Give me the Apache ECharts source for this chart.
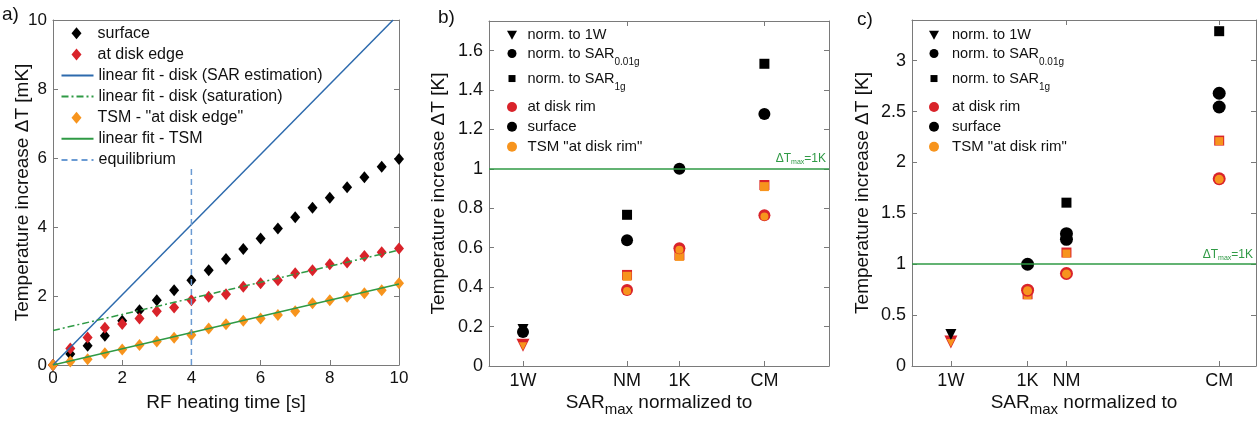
<!DOCTYPE html>
<html>
<head>
<meta charset="utf-8">
<title>Temperature increase</title>
<script src="https://cdn.jsdelivr.net/npm/echarts@6/dist/echarts.min.js"></script>
<style>
html, body { margin: 0; padding: 0; background: #fff; }
#chart { width: 1258px; height: 422px; }
</style>
</head>
<body>
<div id="chart"></div>
<script>
// ---- panel a: heating curves ----
var heatTime = [0, 0.5, 1, 1.5, 2, 2.5, 3, 3.5, 4, 4.5, 5, 5.5, 6, 6.5, 7, 7.5, 8, 8.5, 9, 9.5, 10];
var surfaceA = [0, 0.32, 0.56, 0.85, 1.28, 1.59, 1.88, 2.17, 2.46, 2.75, 3.07, 3.36, 3.67, 3.96, 4.28, 4.56, 4.85, 5.15, 5.44, 5.75, 5.97];
var diskEdgeA = [0, 0.48, 0.80, 1.08, 1.19, 1.35, 1.56, 1.67, 1.88, 1.98, 2.05, 2.27, 2.37, 2.46, 2.66, 2.75, 2.92, 2.97, 3.16, 3.27, 3.38];
var tsmEdgeA = [0, 0.10, 0.17, 0.34, 0.45, 0.58, 0.68, 0.79, 0.87, 1.06, 1.18, 1.28, 1.35, 1.45, 1.56, 1.79, 1.88, 1.98, 2.08, 2.17, 2.37];
var fitSarT = [0, 9.83], fitSarY = [0, 10];
var fitSatT = [0, 10], fitSatY = [1.0, 3.33];
var fitTsmT = [0, 10], fitTsmY = [0, 2.35];
var equilT = [4, 4], equilY = [0, 5.78];

// ---- panel b ----
var catsB = ['1W', 'NM', '1K', 'CM'];
var catPosB = [1.0, 4.06, 5.6, 8.1];
var surfTriB = [0.185, null, null, null];
var surfCircB = [0.173, 0.638, 1.0, 1.278];
var surfSqB = [null, 0.767, null, 1.533];
var rimTriB = [0.105, null, null, null];
var rimCircB = [null, 0.385, 0.597, 0.765];
var rimSqB = [null, 0.462, 0.562, 0.918];
var tsmTriB = [0.10, null, null, null];
var tsmCircB = [null, 0.38, 0.59, 0.758];
var tsmSqB = [null, 0.455, 0.556, 0.91];

// ---- panel c ----
var catsC = ['1W', '1K', 'NM', 'CM'];
var catPosC = [1.13, 3.36, 4.49, 8.93];
var surfTriC = [0.31, null, null, null];
var surfCircC = [null, 1.0, 1.30, 2.68];
var surfCirc2C = [null, null, 1.245, 2.545];
var surfSqC = [null, null, 1.605, 3.29];
var rimTriC = [0.235, null, null, null];
var rimCircC = [null, 0.745, 0.909, 1.84];
var rimSqC = [null, 0.705, 1.115, 2.215];
var tsmTriC = [0.225, null, null, null];
var tsmCircC = [null, 0.74, 0.905, 1.835];
var tsmSqC = [null, 0.695, 1.105, 2.21];

var dTmax = 1;

var FONT = 'Liberation Sans, Arial, sans-serif';
var AXIS = '#7a7a7a';
var BLACK = '#000000', RED = '#d9232a', ORANGE = '#f7941d';
var GREEN = '#2f9a45', BLUE = '#2d6aad', LBLUE = '#6b9bd3';
var DOWN_TRI = 'path://M0,0L10,0L5,9Z';

// axis index of each panel (bottom/left axes; top/right follow at +1)
var AX_A = 0, AX_B = 2, AX_C = 4;

function pts(xs, ys) {
  var out = [];
  for (var i = 0; i < xs.length; i++) {
    if (ys[i] != null) out.push([xs[i], ys[i]]);
  }
  return out;
}

function dots(name, ax, xs, ys, symbol, size, color, rotate) {
  return {
    name: name, type: 'scatter', xAxisIndex: ax, yAxisIndex: ax,
    data: pts(xs, ys), symbol: symbol, symbolSize: size, symbolRotate: rotate || 0,
    itemStyle: { color: color, opacity: 1 }, z: 3, silent: true
  };
}

function fitLine(name, xs, ys, color, type, width) {
  return {
    name: name, type: 'line', xAxisIndex: AX_A, yAxisIndex: AX_A, data: pts(xs, ys),
    symbol: 'none', lineStyle: { color: color, type: type, width: width },
    itemStyle: { color: color }, z: 4, silent: true
  };
}

function valAxis(grid, pos, min, max, interval, extra) {
  var a = {
    type: 'value', gridIndex: grid, position: pos, min: min, max: max, interval: interval,
    axisLine: { onZero: false, lineStyle: { color: AXIS, width: 1 } },
    axisTick: { inside: true, length: 5, lineStyle: { color: AXIS } },
    axisLabel: { color: '#111', fontFamily: FONT },
    splitLine: { show: false },
    nameMoveOverlap: false
  };
  for (var k in extra) a[k] = extra[k];
  return a;
}

function catLabel(cats, pos) {
  return function (v) {
    for (var i = 0; i < pos.length; i++) {
      if (Math.abs(pos[i] - v) < 1e-6) return cats[i];
    }
    return '';
  };
}

var ytitle = { fontSize: 19, color: '#111', fontFamily: FONT };
var subName = {
  rich: {
    a: { fontSize: 19, color: '#111', fontFamily: FONT, verticalAlign: 'top' },
    s: { fontSize: 15, color: '#111', fontFamily: FONT, verticalAlign: 'top', padding: [9, 0, 0, 0] }
  }
};

var xAxes = [
  valAxis(0, 'bottom', 0, 10, 2, {
    axisLabel: { fontSize: 17, color: '#111', fontFamily: FONT, margin: 5 },
    name: 'RF heating time [s]', nameLocation: 'middle', nameGap: 28, nameTextStyle: ytitle
  }),
  valAxis(0, 'top', 0, 10, 2, { axisLabel: { show: false }, axisTick: { show: false } }),
  valAxis(1, 'bottom', 0, 10, null, {
    axisLabel: { fontSize: 18, color: '#111', fontFamily: FONT, margin: 6, customValues: catPosB, formatter: catLabel(catsB, catPosB) },
    axisTick: { inside: true, length: 5, lineStyle: { color: AXIS }, customValues: catPosB },
    name: '{a|SAR}{s|max}{a| normalized to}', nameLocation: 'middle', nameGap: 27, nameTextStyle: subName
  }),
  valAxis(1, 'top', 0, 10, null, {
    axisLabel: { show: false },
    axisTick: { inside: true, length: 5, lineStyle: { color: AXIS }, customValues: [catPosB[1], catPosB[3]] }
  }),
  valAxis(2, 'bottom', 0, 10, null, {
    axisLabel: { fontSize: 18, color: '#111', fontFamily: FONT, margin: 6, customValues: catPosC, formatter: catLabel(catsC, catPosC) },
    axisTick: { inside: true, length: 5, lineStyle: { color: AXIS }, customValues: catPosC },
    name: '{a|SAR}{s|max}{a| normalized to}', nameLocation: 'middle', nameGap: 27, nameTextStyle: subName
  }),
  valAxis(2, 'top', 0, 10, null, {
    axisLabel: { show: false },
    axisTick: { inside: true, length: 5, lineStyle: { color: AXIS }, customValues: [catPosC[2], catPosC[3]] }
  })
];
var yAxes = [
  valAxis(0, 'left', 0, 10, 2, {
    axisLabel: { fontSize: 17, color: '#111', fontFamily: FONT, margin: 6 },
    name: 'Temperature increase \u0394T [mK]', nameLocation: 'middle', nameGap: 21, nameTextStyle: ytitle
  }),
  valAxis(0, 'right', 0, 10, 2, { axisLabel: { show: false } }),
  valAxis(1, 'left', 0, 1.75, 0.2, {
    axisLabel: { fontSize: 18, color: '#111', fontFamily: FONT, margin: 6, showMaxLabel: false },
    name: 'Temperature increase \u0394T [K]', nameLocation: 'middle', nameGap: 41, nameTextStyle: ytitle
  }),
  valAxis(1, 'right', 0, 1.75, 0.2, { axisLabel: { show: false } }),
  valAxis(2, 'left', 0, 3.4, 0.5, {
    axisLabel: { fontSize: 18, color: '#111', fontFamily: FONT, margin: 6, showMaxLabel: false },
    name: 'Temperature increase \u0394T [K]', nameLocation: 'middle', nameGap: 40, nameTextStyle: ytitle
  }),
  valAxis(2, 'right', 0, 3.4, 0.5, { axisLabel: { show: false } })
];

function limitLine(ax) {
  return {
    name: 'limit' + ax, type: 'line', xAxisIndex: ax, yAxisIndex: ax, data: [], silent: true,
    markLine: {
      silent: true, symbol: 'none', animation: false,
      lineStyle: { color: GREEN, type: 'solid', width: 1.5 },
      label: {
        position: 'insideEndTop', distance: 3, color: GREEN,
        formatter: '{a|\u0394T}{s|max}{a|=1K}',
        rich: {
          a: { fontSize: 12, color: GREEN, fontFamily: FONT, verticalAlign: 'top' },
          s: { fontSize: 7, color: GREEN, fontFamily: FONT, verticalAlign: 'top', padding: [6, 0, 0, 0] }
        }
      },
      data: [{ yAxis: dTmax }]
    }
  };
}

var series = [
  dots('surface', AX_A, heatTime, surfaceA, 'diamond', [10, 12], BLACK),
  dots('at disk edge', AX_A, heatTime, diskEdgeA, 'diamond', [10, 12], RED),
  dots('TSM - "at disk edge"', AX_A, heatTime, tsmEdgeA, 'diamond', [10, 12], ORANGE),
  fitLine('linear fit - disk (SAR estimation)', fitSarT, fitSarY, BLUE, 'solid', 1.5),
  fitLine('linear fit - disk (saturation)', fitSatT, fitSatY, GREEN, [7, 3, 2, 3], 1.5),
  fitLine('linear fit - TSM', fitTsmT, fitTsmY, GREEN, 'solid', 1.5),
  fitLine('equilibrium', equilT, equilY, LBLUE, [6, 4], 1.5),

  limitLine(AX_B),
  dots('b rim tri', AX_B, catPosB, rimTriB, 'triangle', 13, RED, 180),
  dots('b tsm tri', AX_B, catPosB, tsmTriB, 'triangle', 8, ORANGE, 180),
  dots('b rim sq', AX_B, catPosB, rimSqB, 'rect', 10, RED),
  dots('b tsm sq', AX_B, catPosB, tsmSqB, 'rect', 9, ORANGE),
  dots('b rim circ', AX_B, catPosB, rimCircB, 'circle', 12, RED),
  dots('b tsm circ', AX_B, catPosB, tsmCircB, 'circle', 8, ORANGE),
  dots('b surf tri', AX_B, catPosB, surfTriB, 'triangle', 11, BLACK, 180),
  dots('b surf circ', AX_B, catPosB, surfCircB, 'circle', 12, BLACK),
  dots('b surf sq', AX_B, catPosB, surfSqB, 'rect', 10, BLACK),

  limitLine(AX_C),
  dots('c rim tri', AX_C, catPosC, rimTriC, 'triangle', 13, RED, 180),
  dots('c tsm tri', AX_C, catPosC, tsmTriC, 'triangle', 8, ORANGE, 180),
  dots('c rim sq', AX_C, catPosC, rimSqC, 'rect', 10, RED),
  dots('c tsm sq', AX_C, catPosC, tsmSqC, 'rect', 8, ORANGE),
  dots('c rim circ', AX_C, catPosC, rimCircC, 'circle', 13, RED),
  dots('c tsm circ', AX_C, catPosC, tsmCircC, 'circle', 9, ORANGE),
  dots('c surf tri', AX_C, catPosC, surfTriC, 'triangle', 11, BLACK, 180),
  dots('c surf circ', AX_C, catPosC, surfCircC, 'circle', 13, BLACK),
  dots('c surf circ2', AX_C, catPosC, surfCirc2C, 'circle', 13, BLACK),
  dots('c surf sq', AX_C, catPosC, surfSqC, 'rect', 10, BLACK),

  // legend-only entries for panels b and c
  dots('norm. to 1W', AX_B, [], [], 'triangle', 10, BLACK, 180),
  dots('norm. to SAR0.01g', AX_B, [], [], 'circle', 9, BLACK),
  dots('norm. to SAR1g', AX_B, [], [], 'rect', 7, BLACK),
  dots('at disk rim', AX_B, [], [], 'circle', 10, RED),
  dots('surface ', AX_B, [], [], 'circle', 10, BLACK),
  dots('TSM "at disk rim"', AX_B, [], [], 'circle', 10, ORANGE)
];

// one legend component per row, so every icon keeps its own size
function legendRow(name, cx, cy, iconW, iconH, textX, fontSize, sub, icon) {
  var left = cx - iconW / 2;
  var pl = Math.max(0, textX - (left + iconW + 5));
  var h = Math.max(iconH, fontSize);
  var item = { name: name };
  if (iconW > 20) item.itemStyle = { opacity: 0 };
  if (icon) item.icon = icon;
  return {
    orient: 'vertical', left: left, top: cy - h / 2, padding: 0,
    itemWidth: iconW, itemHeight: iconH, selectedMode: false,
    data: [item],
    formatter: function (n) {
      if (n === 'norm. to SAR0.01g') return '{n|norm. to SAR}{s|0.01g}';
      if (n === 'norm. to SAR1g') return '{n|norm. to SAR}{s|1g}';
      return n.trim();
    },
    textStyle: {
      fontSize: fontSize, color: '#111', fontFamily: FONT,
      padding: [sub ? 6 : 0, 0, 0, pl],
      rich: {
        n: { fontSize: fontSize, color: '#111', fontFamily: FONT, verticalAlign: 'top' },
        s: { fontSize: 10, color: '#111', fontFamily: FONT, verticalAlign: 'top', padding: [11, 0, 0, 0] }
      }
    }
  };
}

var rowsA = [
  ['surface', 10, 12], ['at disk edge', 10, 12],
  ['linear fit - disk (SAR estimation)', 32, 12], ['linear fit - disk (saturation)', 32, 12],
  ['TSM - "at disk edge"', 10, 12], ['linear fit - TSM', 32, 12], ['equilibrium', 32, 12]
];
var rowsSide = [
  ['norm. to 1W', 10, 9, 14.5, false, 35, DOWN_TRI],
  ['norm. to SAR0.01g', 9, 9, 14.5, true, 53.3],
  ['norm. to SAR1g', 7, 7, 14.5, true, 78.3],
  ['at disk rim', 10, 10, 15, false, 107],
  ['surface ', 10, 10, 15, false, 126.7],
  ['TSM "at disk rim"', 10, 10, 15, false, 146.7]
];

var legends = [];
rowsA.forEach(function (r, i) {
  legends.push(legendRow(r[0], 76.5, 33.3 + i * 21.1, r[1], r[2], 97.5, 16, false));
});
[[512, 527.5], [934, 952]].forEach(function (p) {
  rowsSide.forEach(function (r) {
    legends.push(legendRow(r[0], p[0], r[5], r[1], r[2], p[1], r[3], r[4], r[6]));
  });
});

var titleText = { fontSize: 19, fontWeight: 'normal', color: '#111', fontFamily: FONT };
var option = {
  animation: false,
  backgroundColor: '#fff',
  title: [
    { text: 'a)', left: 2, top: 5, padding: 0, textStyle: titleText },
    { text: 'b)', left: 438, top: 8, padding: 0, textStyle: titleText },
    { text: 'c)', left: 857, top: 10, padding: 0, textStyle: titleText }
  ],
  grid: [
    { left: 53, top: 20, width: 346, height: 345 },
    { left: 489, top: 21, width: 340, height: 346 },
    { left: 912, top: 20, width: 344, height: 347 }
  ],
  legend: legends,
  xAxis: xAxes,
  yAxis: yAxes,
  series: series
};

var myChart = echarts.init(document.getElementById('chart'));
myChart.setOption(option);
</script>
</body>
</html>
